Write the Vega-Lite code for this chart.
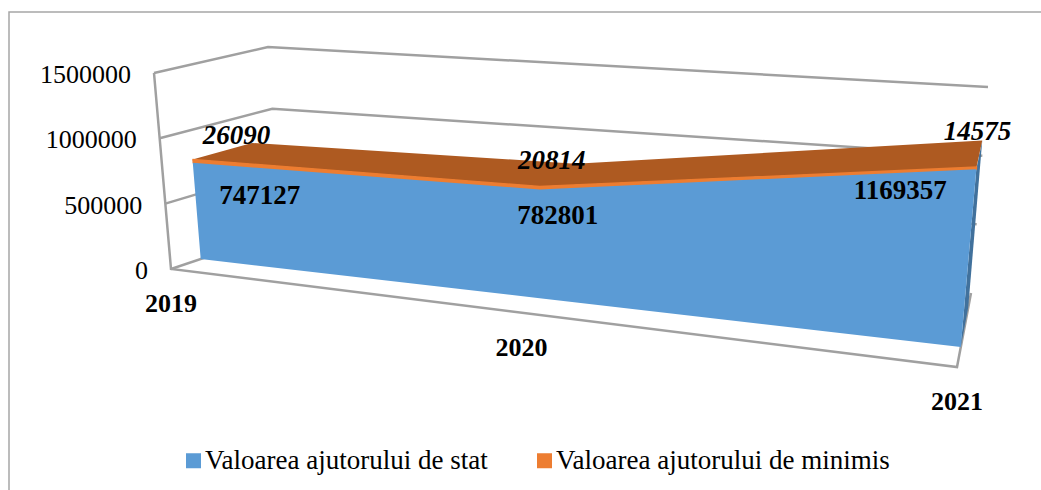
{
"$schema":"https://vega.github.io/schema/vega-lite/v6.json",
"width":1100,"height":500,"autosize":"none",
"padding":{"left":9,"top":12,"right":-68,"bottom":-22},
"background":"white",
"config":{"view":{"stroke":"#a6a6a6","strokeWidth":1.5},"text":{"font":"Liberation Serif","fontSize":26}},
"data":{"values":[
{"kind":"wall","id":"top-left","pt":1,"year":2019,"value":1500000,"depth":0},
{"kind":"wall","id":"top-left","pt":2,"year":2019,"value":1500000,"depth":1},
{"kind":"wall","id":"top-left","pt":3,"year":2021,"value":1500000,"depth":1},
{"kind":"wall","id":"m1","pt":1,"year":2019,"value":1000000,"depth":0},
{"kind":"wall","id":"m1","pt":2,"year":2019,"value":1000000,"depth":1},
{"kind":"wall","id":"m1","pt":3,"year":2021,"value":1000000,"depth":1},
{"kind":"wall","id":"m05","pt":1,"year":2019,"value":500000,"depth":0},
{"kind":"wall","id":"m05","pt":2,"year":2019,"value":500000,"depth":1},
{"kind":"wall","id":"m05","pt":3,"year":2021,"value":500000,"depth":1},
{"kind":"wall","id":"axis","pt":1,"year":2019,"value":1500000,"depth":0},
{"kind":"wall","id":"axis","pt":2,"year":2019,"value":0,"depth":0},
{"kind":"wall","id":"axis","pt":3,"year":2021,"value":0,"depth":0},
{"kind":"wall","id":"axis","pt":4,"year":2021,"value":0,"depth":1},
{"kind":"wall","id":"floor-left","pt":1,"year":2019,"value":0,"depth":0},
{"kind":"wall","id":"floor-left","pt":2,"year":2019,"value":0,"depth":1},
{"kind":"side","id":"side","pt":1,"year":2021,"value":0,"depth":0.27},
{"kind":"side","id":"side","pt":2,"year":2021,"value":1169357,"depth":0.27},
{"kind":"side","id":"side","pt":3,"year":2021,"value":1183932,"depth":0.8},
{"kind":"side","id":"side","pt":4,"year":2021,"value":0,"depth":0.8},
{"kind":"top","id":"top","pt":1,"year":2019,"value":773217,"depth":0.27},
{"kind":"top","id":"top","pt":2,"year":2020,"value":803615,"depth":0.27},
{"kind":"top","id":"top","pt":3,"year":2021,"value":1183932,"depth":0.27},
{"kind":"top","id":"top","pt":4,"year":2021,"value":1183932,"depth":0.8},
{"kind":"top","id":"top","pt":5,"year":2020,"value":803615,"depth":0.8},
{"kind":"top","id":"top","pt":6,"year":2019,"value":773217,"depth":0.8},
{"kind":"front","id":"Valoarea ajutorului de minimis","pt":1,"year":2019,"value":747127,"depth":0.27},
{"kind":"front","id":"Valoarea ajutorului de minimis","pt":2,"year":2020,"value":782801,"depth":0.27},
{"kind":"front","id":"Valoarea ajutorului de minimis","pt":3,"year":2021,"value":1169357,"depth":0.27},
{"kind":"front","id":"Valoarea ajutorului de minimis","pt":4,"year":2021,"value":1183932,"depth":0.27},
{"kind":"front","id":"Valoarea ajutorului de minimis","pt":5,"year":2020,"value":803615,"depth":0.27},
{"kind":"front","id":"Valoarea ajutorului de minimis","pt":6,"year":2019,"value":773217,"depth":0.27},
{"kind":"front","id":"Valoarea ajutorului de stat","pt":1,"year":2019,"value":0,"depth":0.27},
{"kind":"front","id":"Valoarea ajutorului de stat","pt":2,"year":2020,"value":0,"depth":0.27},
{"kind":"front","id":"Valoarea ajutorului de stat","pt":3,"year":2021,"value":0,"depth":0.27},
{"kind":"front","id":"Valoarea ajutorului de stat","pt":4,"year":2021,"value":1169357,"depth":0.27},
{"kind":"front","id":"Valoarea ajutorului de stat","pt":5,"year":2020,"value":782801,"depth":0.27},
{"kind":"front","id":"Valoarea ajutorului de stat","pt":6,"year":2019,"value":747127,"depth":0.27},
{"kind":"tick","year":2019,"value":0,"depth":0,"label":"0"},
{"kind":"tick","year":2019,"value":500000,"depth":0,"label":"500000"},
{"kind":"tick","year":2019,"value":1000000,"depth":0,"label":"1000000"},
{"kind":"tick","year":2019,"value":1500000,"depth":0,"label":"1500000"},
{"kind":"cat","year":2019,"value":0,"depth":0,"label":"2019"},
{"kind":"cat","year":2020,"value":0,"depth":0,"label":"2020"},
{"kind":"cat","year":2021,"value":0,"depth":0,"label":"2021"},
{"kind":"stat2019","year":2019,"value":747127,"depth":0.27,"label":"747127"},
{"kind":"stat2020","year":2020,"value":782801,"depth":0.27,"label":"782801"},
{"kind":"stat2021","year":2021,"value":1169357,"depth":0.27,"label":"1169357"},
{"kind":"min2019","year":2019,"value":773217,"depth":0.27,"label":"26090"},
{"kind":"min2020","year":2020,"value":803615,"depth":0.27,"label":"20814"},
{"kind":"min2021","year":2021,"value":1183932,"depth":0.27,"label":"14575"}
]},
"transform":[
{"calculate":"datum.year===2019?0:datum.year===2020?0.446:1","as":"u"},
{"calculate":"datum.value/1500000","as":"v"},
{"calculate":"(1-datum.depth)*((1-datum.v)*(171+786*datum.u)+datum.v*(154+824*datum.u))+datum.depth*((1-datum.v)*(281+690*datum.u)+datum.v*(268+720*datum.u))","as":"px"},
{"calculate":"(1-datum.depth)*((1-datum.v)*(269+98*datum.u)+datum.v*(73+58*datum.u))+datum.depth*((1-datum.v)*(232+61*datum.u)+datum.v*(47+40*datum.u))","as":"py"}
],
"encoding":{
"x":{"field":"px","type":"quantitative","axis":null,"scale":{"domain":[9,1109],"nice":false,"zero":false}},
"y":{"field":"py","type":"quantitative","axis":null,"scale":{"domain":[512,12],"nice":false,"zero":false}}
},
"layer":[
{"transform":[{"filter":"datum.kind==='wall'"}],"mark":{"type":"line","stroke":"#a0a0a0","strokeWidth":2.5,"clip":false},"encoding":{"detail":{"field":"id"},"order":{"field":"pt","type":"quantitative"}}},
{"transform":[{"filter":"datum.kind==='side'"}],"mark":{"type":"line","fill":"#41719C","strokeWidth":0},"encoding":{"order":{"field":"pt","type":"quantitative"}}},
{"transform":[{"filter":"datum.kind==='top'"}],"mark":{"type":"line","fill":"#AE5A21","strokeWidth":0},"encoding":{"order":{"field":"pt","type":"quantitative"}}},
{"transform":[{"filter":"datum.kind==='front' && datum.id==='Valoarea ajutorului de minimis'"}],"mark":{"type":"line","stroke":"#ED7D31","strokeWidth":1.5,"fill":"#ED7D31"},"encoding":{"order":{"field":"pt","type":"quantitative"}}},
{"transform":[{"filter":"datum.kind==='front'"}],"mark":{"type":"line","strokeWidth":0},"encoding":{
"order":{"field":"pt","type":"quantitative"},
"detail":{"field":"id"},
"fill":{"field":"id","type":"nominal","scale":{"domain":["Valoarea ajutorului de stat","Valoarea ajutorului de minimis"],"range":["#5B9BD5","#ED7D31"]},
"legend":{"title":null,"orient":"none","legendX":171,"legendY":435,"direction":"horizontal","columns":2,"columnPadding":43,"symbolType":"square","symbolSize":225,"symbolStrokeWidth":0,"labelFont":"Liberation Serif","labelFontSize":27,"labelColor":"black","labelOffset":-2,"labelLimit":500}}}},
{"transform":[{"filter":"datum.kind==='tick'"}],"mark":{"type":"text","align":"right","baseline":"middle","dx":-23,"dy":2,"color":"black"},"encoding":{"text":{"field":"label"}}},
{"transform":[{"filter":"datum.kind==='cat'"}],"mark":{"type":"text","align":"center","baseline":"middle","dy":35,"fontWeight":"bold","color":"black"},"encoding":{"text":{"field":"label"}}},
{"transform":[{"filter":"datum.kind==='stat2019'"}],"mark":{"type":"text","align":"center","baseline":"middle","dx":67,"dy":33,"fontWeight":"bold","fontSize":27,"color":"black"},"encoding":{"text":{"field":"label"}}},
{"transform":[{"filter":"datum.kind==='stat2020'"}],"mark":{"type":"text","align":"center","baseline":"middle","dx":18,"dy":27,"fontWeight":"bold","fontSize":27,"color":"black"},"encoding":{"text":{"field":"label"}}},
{"transform":[{"filter":"datum.kind==='stat2021'"}],"mark":{"type":"text","align":"center","baseline":"middle","dx":-76,"dy":22,"fontWeight":"bold","fontSize":27,"color":"black"},"encoding":{"text":{"field":"label"}}},
{"transform":[{"filter":"datum.kind==='min2019'"}],"mark":{"type":"text","align":"center","baseline":"middle","dx":44,"dy":-24,"fontWeight":"bold","fontStyle":"italic","fontSize":27,"color":"black"},"encoding":{"text":{"field":"label"}}},
{"transform":[{"filter":"datum.kind==='min2020'"}],"mark":{"type":"text","align":"center","baseline":"middle","dx":12,"dy":-26,"fontWeight":"bold","fontStyle":"italic","fontSize":27,"color":"black"},"encoding":{"text":{"field":"label"}}},
{"transform":[{"filter":"datum.kind==='min2021'"}],"mark":{"type":"text","align":"center","baseline":"middle","dx":1,"dy":-35,"fontWeight":"bold","fontStyle":"italic","fontSize":27,"color":"black"},"encoding":{"text":{"field":"label"}}}
]
}
